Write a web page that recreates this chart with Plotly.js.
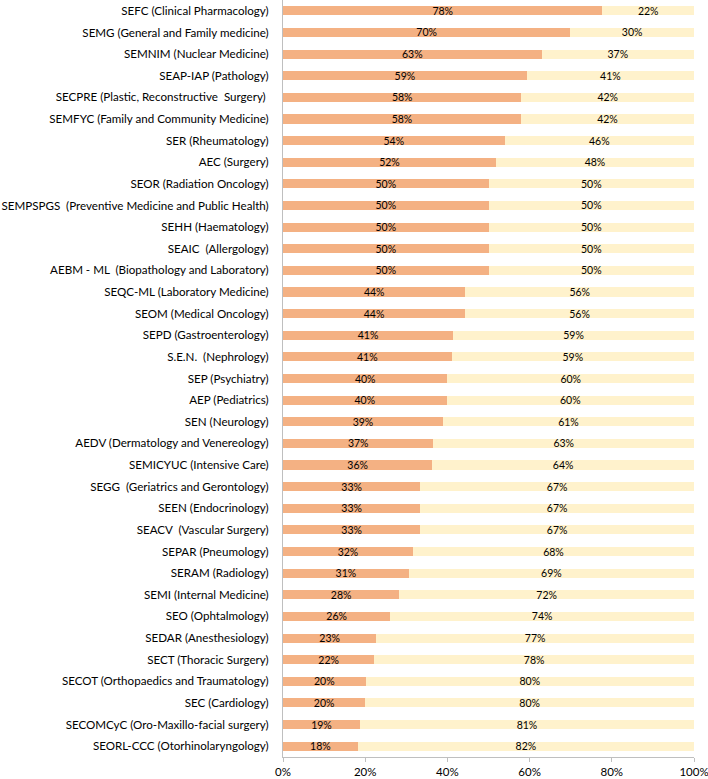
<!DOCTYPE html>
<html>
<head>
<meta charset="utf-8">
<script src="https://cdn.plot.ly/plotly-3.0.1.min.js"></script>
<style>html,body{margin:0;padding:0;background:#fff;}#chart{width:708px;height:779px;}</style>
</head>
<body>
<div id="chart"></div>
<script>
const NB = '\u00A0';
const categories = [
  'SEFC (Clinical Pharmacology)',
  'SEMG (General and Family medicine)',
  'SEMNIM (Nuclear Medicine)',
  'SEAP-IAP (Pathology)',
  'SECPRE (Plastic, Reconstructive' + NB + ' Surgery)' + NB,
  'SEMFYC (Family and Community Medicine)',
  'SER (Rheumatology)',
  'AEC (Surgery)',
  'SEOR (Radiation Oncology)',
  'SEMPSPGS' + NB + ' (Preventive Medicine and Public Health)',
  'SEHH (Haematology)',
  'SEAIC' + NB + ' (Allergology)',
  'AEBM - ML' + NB + ' (Biopathology and Laboratory)',
  'SEQC-ML (Laboratory Medicine)',
  'SEOM (Medical Oncology)',
  'SEPD (Gastroenterology)',
  'S.E.N.' + NB + ' (Nephrology)',
  'SEP (Psychiatry)',
  'AEP (Pediatrics)',
  'SEN (Neurology)',
  'AEDV (Dermatology and Venereology)',
  'SEMICYUC (Intensive Care)',
  'SEGG' + NB + ' (Geriatrics and Gerontology)',
  'SEEN (Endocrinology)',
  'SEACV' + NB + ' (Vascular Surgery)',
  'SEPAR (Pneumology)',
  'SERAM (Radiology)',
  'SEMI (Internal Medicine)',
  'SEO (Ophtalmology)',
  'SEDAR (Anesthesiology)',
  'SECT (Thoracic Surgery)',
  'SECOT (Orthopaedics and Traumatology)',
  'SEC (Cardiology)',
  'SECOMCyC (Oro-Maxillo-facial surgery)',
  'SEORL-CCC (Otorhinolaryngology)'
];
const seriesA = [77.7, 69.9, 62.9, 59.3, 58.0, 57.9, 53.9, 51.8, 50, 50, 50, 50, 50, 44.4, 44.3, 41.4, 41.0, 40.0, 39.8, 38.9, 36.6, 36.3, 33.4, 33.4, 33.4, 31.6, 30.6, 28.3, 26.1, 22.7, 22.2, 20.1, 20.0, 18.7, 18.2];
const seriesB = [22.3, 30.1, 37.1, 40.7, 42.0, 42.1, 46.1, 48.2, 50, 50, 50, 50, 50, 55.6, 55.7, 58.6, 59.0, 60.0, 60.2, 61.1, 63.4, 63.7, 66.6, 66.6, 66.6, 68.4, 69.4, 71.7, 73.9, 77.3, 77.8, 79.9, 80.0, 81.3, 81.8];
const xTickVals = [0, 20, 40, 60, 80, 100];
const xTickText = ['0%', '20%', '40%', '60%', '80%', '100%'];

const FONT = 'Lato, "Open Sans", sans-serif';
const common = {
  type: 'bar', orientation: 'h', y: categories,
  textposition: 'inside', insidetextanchor: 'middle', textangle: 0,
  constraintext: 'none', texttemplate: '%{x:.0f}%',
  insidetextfont: {family: FONT, size: 10.5, color: '#000'},
  hoverinfo: 'skip', cliponaxis: false
};
const traces = [
  Object.assign({}, common, {x: seriesA, marker: {color: '#F4B183', line: {width: 0}}}),
  Object.assign({}, common, {x: seriesB, marker: {color: '#FFF2CC', line: {width: 0}}})
];
const layout = {
  width: 708, height: 779,
  margin: {l: 283, r: 14, t: 0, b: 22, pad: 0},
  barmode: 'stack', bargap: 0.58,
  showlegend: false,
  paper_bgcolor: '#fff', plot_bgcolor: '#fff',
  font: {family: FONT, size: 11, color: '#000'},
  xaxis: {
    range: [0, 100], tickvals: xTickVals, ticktext: xTickText,
    showgrid: false, zeroline: false, showline: true, linecolor: '#bfbfbf', linewidth: 1,
    ticks: 'outside', ticklen: 4, tickcolor: '#bfbfbf',
    ticklabeloverflow: 'allow',
    tickfont: {family: FONT, size: 11.5, color: '#000'}, fixedrange: true
  },
  yaxis: {
    autorange: 'reversed', type: 'category',
    showgrid: false, zeroline: false, showline: true, linecolor: '#bfbfbf', linewidth: 1,
    ticks: '', ticklabelstandoff: 11,
    tickfont: {family: FONT, size: 11.6, color: '#000'}, fixedrange: true
  }
};
Plotly.newPlot('chart', traces, layout, {displayModeBar: false, staticPlot: true});
</script>
</body>
</html>
